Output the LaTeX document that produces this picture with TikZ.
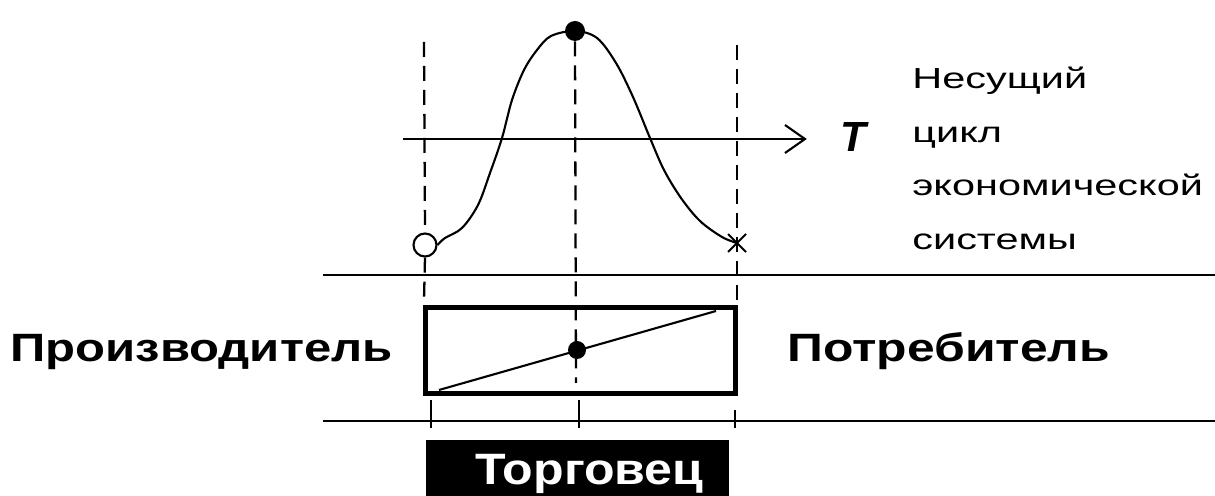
\documentclass[tikz,border=0pt]{standalone}
\usepackage{fontspec}
\newfontfamily\arial{Liberation Sans}
\usetikzlibrary{arrows.meta,calc}
\tikzset{
  px/.style={x=0.02cm,y=-0.02cm},
  thinln/.style={line width=1.2pt},
  midln/.style={line width=1.7pt},
  dashln/.style={line width=1.3pt, dash pattern=on 15*0.02cm off 9*0.02cm},
  regtext/.style={anchor=base west, inner sep=0pt, font=\arial\fontsize{16.5}{19}\selectfont},
  boldtext/.style={anchor=base west, inner sep=0pt, font=\arial\bfseries\fontsize{22.5}{26}\selectfont},
  dotnode/.style={circle, fill=black, inner sep=0pt, minimum size=#1*0.02cm},
}
\begin{document}
\begin{tikzpicture}[px]
\useasboundingbox (0,0) rectangle (1215,496);
% named coordinates
\coordinate (axisL) at (403,139);
\coordinate (axisR) at (805,139);
\coordinate (topL) at (424,42);
\coordinate (botL) at (424,300);
\coordinate (topR) at (737,45);
\coordinate (botR) at (737,305);
\coordinate (midB) at (576,383);
\coordinate (h1L) at (323,275);
\coordinate (h1R) at (1215,275);
\coordinate (h2L) at (323,421);
\coordinate (h2R) at (1215,421);
\coordinate (diagA) at (439,390);
\coordinate (diagB) at (716,311);

% horizontal lines
\draw[midln] (h1L) -- (h1R);
\draw[midln] (h2L) -- (h2R);

% axis with open arrow
\draw[midln] (axisL) -- (axisR);
\draw[thinln] ($(axisR)+(-20,-14)$) -- (axisR) -- ($(axisR)+(-20,14)$);

% peak dot and markers
\node[dotnode=20] (peak) at (575,31) {};
\node[draw, circle, thinln, fill=white, inner sep=0pt, minimum size=23*0.02cm] (start) at (425,245) {};
\coordinate (endx) at (737,243);
\draw[thinln] ($(endx)+(-9,-9)$) -- ($(endx)+(9,9)$);
\draw[thinln] ($(endx)+(-9,9)$) -- ($(endx)+(9,-9)$);

% dashed verticals
\draw[dashln] (topL) -- (start.north);
\draw[dashln] (start.south) -- (botL);
\draw[dashln] (topR) -- (botR);
\draw[dashln] (peak.south) -- (midB);

% curve
\draw[thinln] plot[smooth, tension=0.55] coordinates {(start.east) (445,238) (462,228) (478,205) (490,173) (502,138) (512,100) (524,70) (537,50) (551,36) (575,31) (597,38) (616,63) (633,97) (650,138) (664,170) (681,198) (700,221) (722,237) (endx)};

% box
\node[draw, line width=2.85pt, minimum width=310*0.02cm, minimum height=86*0.02cm, inner sep=0pt] (trader) at (580.5,350.5) {};
\draw[thinln] (diagA) -- (diagB);
\node[dotnode=18] (mid) at (577,350) {};

% ticks
\coordinate (t1a) at (431,400); \coordinate (t1b) at (431,428);
\coordinate (t2a) at (579,400); \coordinate (t2b) at (579,428);
\coordinate (t3a) at (735,410); \coordinate (t3b) at (735,428);
\draw[thinln] (t1a) -- (t1b);
\draw[thinln] (t2a) -- (t2b);
\draw[thinln] (t3a) -- (t3b);

% merchant label box
\node[fill=black, minimum width=303*0.02cm, minimum height=56*0.02cm, inner sep=0pt] (merchbox) at (577.5,468) {};
\node[anchor=base west, inner sep=0pt, text=white, font=\arial\bfseries\fontsize{25}{30}\selectfont] (merch) at (475,485) {\scalebox{1.14}[1]{Торговец}};

% side labels
\node[boldtext] (prod) at (10,362) {\scalebox{1.24}[1]{Производитель}};
\node[boldtext] (cons) at (787,362) {\scalebox{1.26}[1]{Потребитель}};

% T
\node[anchor=base west, inner sep=0pt, font=\arial\bfseries\itshape\fontsize{24}{28}\selectfont] (T) at (840,152) {T};

% right text
\node[regtext] (l1) at (912,89) {\scalebox{1.43}[1]{Несущий}};
\node[regtext] (l2) at (912,143) {\scalebox{1.43}[1]{цикл}};
\node[regtext] (l3) at (912,196) {\scalebox{1.43}[1]{экономической}};
\node[regtext] (l4) at (912,250) {\scalebox{1.43}[1]{системы}};
\end{tikzpicture}
\end{document}
